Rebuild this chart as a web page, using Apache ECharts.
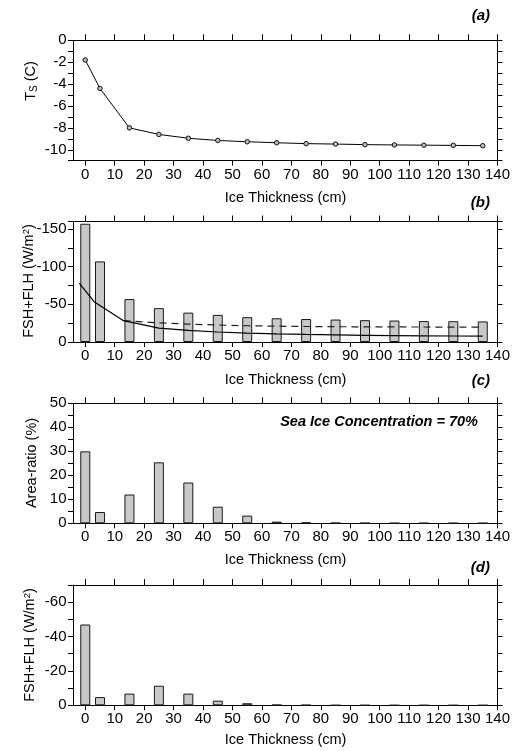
<!DOCTYPE html>
<html>
<head>
<meta charset="utf-8">
<script src="https://cdn.jsdelivr.net/npm/echarts@6/dist/echarts.min.js"></script>
<style>
html,body{margin:0;padding:0;background:#fff;}
#chart{width:513px;height:751px;}
</style>
</head>
<body>
<div id="chart"></div>
<script>
// ---------------- data ----------------
var thickness = [0, 5, 15, 25, 35, 45, 55, 65, 75, 85, 95, 105, 115, 125, 135];

// (a) surface temperature (C)
var tsValues = [-1.8, -4.4, -8.0, -8.6, -8.95, -9.15, -9.27, -9.36, -9.44, -9.48, -9.53, -9.56, -9.58, -9.6, -9.63];

// (b) heat flux FSH+FLH (W/m2): bars and two curves
var fluxBars = [-157, -107, -57, -45, -39, -36, -33, -31.5, -30.5, -29.8, -29, -28.5, -27.8, -27.6, -27.3];
var solidX = [-2, 3, 13, 25, 35, 45, 55, 65, 75, 85, 95, 105, 115, 125, 135];
var solidY = [-78, -53.5, -28.3, -18.5, -15.5, -13.3, -11.8, -10.7, -10, -9.4, -8.9, -8.5, -8.2, -8.0, -7.8];
var dashX = [13, 25, 35, 45, 55, 65, 75, 85, 95, 105, 115, 125, 135];
var dashY = [-28.3, -25.5, -23.8, -22.5, -21.6, -21, -20.6, -20.3, -20.1, -20, -19.9, -19.8, -19.8];

// (c) area ratio (%)
var areaRatio = [30, 4.7, 12, 25.4, 17, 6.9, 3.2, 0.7, 0.4, 0.2, 0.15, 0.1, 0.1, 0.1, 0.1];

// (d) area-weighted heat flux (W/m2)
var weightedFlux = [-47, -4.8, -6.8, -11.4, -6.8, -2.7, -1.2, -0.3, -0.2, -0.05, -0.05, -0.05, -0.05, -0.05, -0.05];

// axis ranges / tick steps
var xStart = -4, xEnd = 140, xLabelStep = 10;
var yAxisA = {min: -11, max: 0, tick: 1, label: 2};
var yAxisB = {min: 0, max: 160, tick: 25, label: 50, labelMax: 150};   // magnitude axis, labelled negative
var yAxisC = {min: 0, max: 50, tick: 5, label: 10};
var yAxisD = {min: -70, max: 0, tick: 10, label: 20};

// ---------------- chart ----------------
var FONT = 'Liberation Sans';
var BLACK = '#000';
var xCats = [];
for (var v = xStart; v <= xEnd; v++) xCats.push(String(v));

var grids = [
  {left: 73.5, right: 15.3, top: 40.3, height: 120.4},
  {left: 73.5, right: 15.3, top: 221.5, height: 120.5},
  {left: 73.5, right: 15.3, top: 403.3, height: 120},
  {left: 73.5, right: 15.3, top: 585, height: 120.3}
];

var TICK_BOTTOM = 5, TICK_TOP = 6, TICK_LEFT = 5.5, TICK_RIGHT = 5;

function ls() { return {color: '#000', width: 1, type: 'solid'}; }
function isXTick(idx, val) { return Number(val) % xLabelStep === 0 && Number(val) >= 0; }

var xAxes = [], yAxes = [];
grids.forEach(function (g, i) {
  xAxes.push({
    gridIndex: i, type: 'category', data: xCats, boundaryGap: false, position: 'bottom',
    axisLine: {show: true, onZero: false, lineStyle: ls()},
    axisTick: {show: true, length: TICK_BOTTOM, inside: false, interval: isXTick, lineStyle: ls()},
    axisLabel: {show: true, interval: isXTick, fontSize: 15, fontFamily: FONT, color: BLACK, margin: 6.5},
    splitLine: {show: false}
  });
  xAxes.push({
    gridIndex: i, type: 'category', data: xCats, boundaryGap: false, position: 'top',
    axisLine: {show: true, onZero: false, lineStyle: ls()},
    axisTick: {show: true, length: TICK_TOP, inside: false, interval: isXTick, lineStyle: ls()},
    axisLabel: {show: false},
    splitLine: {show: false}
  });
});

function yPair(i, cfg, inverse, fmt) {
  yAxes.push({
    gridIndex: i, type: 'value', min: cfg.min, max: cfg.max, interval: cfg.tick, inverse: inverse,
    position: 'left',
    axisLine: {show: true, lineStyle: ls()},
    axisTick: {show: true, length: TICK_LEFT, inside: false, lineStyle: ls()},
    axisLabel: {show: true, fontSize: 15, fontFamily: FONT, color: BLACK, margin: 7, formatter: fmt,
      showMinLabel: true, showMaxLabel: true},
    splitLine: {show: false}
  });
  yAxes.push({
    gridIndex: i, type: 'value', min: cfg.min, max: cfg.max, interval: cfg.tick, inverse: inverse,
    position: 'right',
    axisLine: {show: true, lineStyle: ls()},
    axisTick: {show: true, length: TICK_RIGHT, inside: false, lineStyle: ls()},
    axisLabel: {show: false},
    splitLine: {show: false}
  });
}
function majorFmt(step) {
  return function (val) { return (Math.round(val) % step === 0) ? String(val) : ''; };
}
yPair(0, yAxisA, false, majorFmt(yAxisA.label));
yPair(1, yAxisB, false, function (val) {
  if (val === 0) return '0';
  return (val % yAxisB.label === 0 && val <= yAxisB.labelMax) ? '-' + val : '';
});
yPair(2, yAxisC, false, majorFmt(yAxisC.label));
yPair(3, yAxisD, true, majorFmt(yAxisD.label));

function pairs(xs, ys, sign) {
  return xs.map(function (x, k) { return [String(x), (sign || 1) * ys[k]]; });
}
var barStyle = {color: '#c8c8c8', borderColor: '#1a1a1a', borderWidth: 1};

var series = [
  {type: 'line', xAxisIndex: 0, yAxisIndex: 0, data: pairs(thickness, tsValues),
    symbol: 'circle', symbolSize: 4.5, showSymbol: true, showAllSymbol: true,
    lineStyle: {color: BLACK, width: 1}, itemStyle: {color: '#bbb', borderColor: '#111', borderWidth: 1}, silent: true},
  {type: 'bar', xAxisIndex: 2, yAxisIndex: 2, data: pairs(thickness, fluxBars, -1), barWidth: 10, itemStyle: barStyle, silent: true},
  {type: 'line', xAxisIndex: 2, yAxisIndex: 2, data: pairs(dashX, dashY, -1), symbol: 'none',
    lineStyle: {color: '#222', width: 1.2, type: [7, 5]}, silent: true, z: 3},
  {type: 'line', xAxisIndex: 2, yAxisIndex: 2, data: pairs(solidX, solidY, -1), symbol: 'none',
    lineStyle: {color: BLACK, width: 1.2}, silent: true, z: 4},
  {type: 'bar', xAxisIndex: 4, yAxisIndex: 4, data: pairs(thickness, areaRatio), barWidth: 10, itemStyle: barStyle, silent: true},
  {type: 'bar', xAxisIndex: 6, yAxisIndex: 6, data: pairs(thickness, weightedFlux), barWidth: 10, itemStyle: barStyle, silent: true}
];

function yName(x, y, rich, text) {
  return {type: 'text', x: x, y: y, rotation: Math.PI / 2, silent: true,
    style: {text: text, rich: rich, align: 'center', verticalAlign: 'middle', fontSize: 14.5, fontFamily: FONT, fill: BLACK}};
}
var richTs = {a: {fontSize: 14.5, fontFamily: FONT, color: BLACK},
  s: {fontSize: 10, fontFamily: FONT, color: BLACK, verticalAlign: 'bottom', padding: [6, 0, 0, 0]}};
var richFlux = {a: {fontSize: 14.5, fontFamily: FONT, color: BLACK},
  p: {fontSize: 9.5, fontFamily: FONT, color: BLACK, verticalAlign: 'top', padding: [0, 0, 6, 0]}};
function plainText(x, y, text, align, font) {
  return {type: 'text', x: x, y: y, silent: true, style: {text: text, align: align, verticalAlign: 'middle', font: font, fill: BLACK}};
}
var nameFont = '14.5px "Liberation Sans"';
var tagFont = 'italic bold 15px "Liberation Sans"';
var graphics = [
  yName(31, 81, richTs, '{a|T}{s|S}{a| (C)}'),
  yName(29, 281, richFlux, '{a|FSH+FLH (W/m}{p|2}{a|)}'),
  yName(32, 463, null, 'Area-ratio (%)'),
  yName(30, 645, richFlux, '{a|FSH+FLH (W/m}{p|2}{a|)}'),
  plainText(285.6, 198, 'Ice Thickness (cm)', 'center', nameFont),
  plainText(285.6, 380, 'Ice Thickness (cm)', 'center', nameFont),
  plainText(285.6, 560, 'Ice Thickness (cm)', 'center', nameFont),
  plainText(285.6, 740, 'Ice Thickness (cm)', 'center', nameFont),
  plainText(490, 16, '(a)', 'right', tagFont),
  plainText(490, 203, '(b)', 'right', tagFont),
  plainText(490, 381, '(c)', 'right', tagFont),
  plainText(490, 568, '(d)', 'right', tagFont),
  plainText(478, 422, 'Sea Ice Concentration = 70%', 'right', 'italic bold 14.5px "Liberation Sans"')
];

var chart = echarts.init(document.getElementById('chart'), null, {renderer: 'canvas'});
chart.setOption({animation: false, backgroundColor: '#fff', grid: grids, xAxis: xAxes, yAxis: yAxes, series: series, graphic: graphics});
</script>
</body>
</html>
